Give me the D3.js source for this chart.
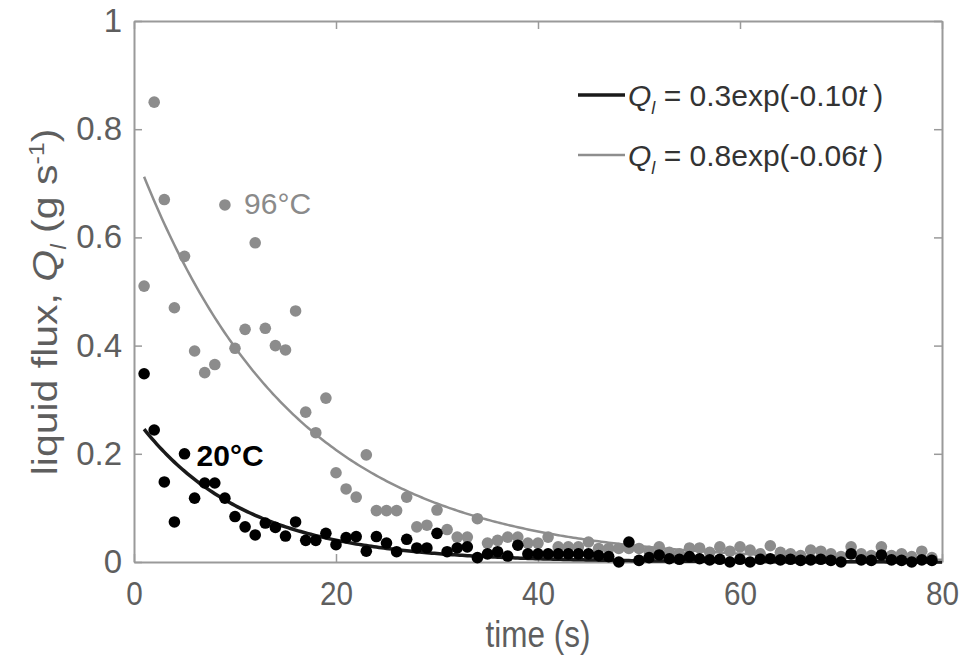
<!DOCTYPE html>
<html>
<head>
<meta charset="utf-8">
<script src="https://cdn.jsdelivr.net/npm/d3@7"></script>
<style>
  html, body { margin: 0; padding: 0; background: #fff; }
  text { font-family: "Liberation Sans", Arial, sans-serif; }
</style>
</head>
<body>
<div class="fluxchart"></div>
<script>
// time (s) for every sample
const times = d3.range(1, 80);
// 96 C run, liquid flux (g/s)
const hot = [
  0.51, 0.85, 0.67, 0.47, 0.565, 0.39, 0.35, 0.365, 0.66, 0.395,
  0.43, 0.59, 0.432, 0.40, 0.392, 0.464, 0.277, 0.239, 0.303, 0.165,
  0.135, 0.12, 0.198, 0.095, 0.095, 0.095, 0.12, 0.065, 0.068, 0.096,
  0.06, 0.046, 0.046, 0.08, 0.035, 0.04, 0.046, 0.046, 0.035, 0.035,
  0.046, 0.028, 0.028, 0.028, 0.037, 0.025, 0.025, 0.025, 0.025, 0.025,
  0.02, 0.028, 0.018, 0.015, 0.026, 0.026, 0.018, 0.028, 0.02, 0.028,
  0.022, 0.015, 0.03, 0.018, 0.015, 0.012, 0.022, 0.02, 0.015, 0.01,
  0.028, 0.015, 0.012, 0.028, 0.012, 0.015, 0.01, 0.02, 0.008
];
// 20 C run
const cold = [
  0.348, 0.244, 0.148, 0.074, 0.20, 0.118, 0.146, 0.146, 0.118, 0.084,
  0.065, 0.05, 0.072, 0.064, 0.048, 0.074, 0.04, 0.04, 0.053, 0.032,
  0.045, 0.047, 0.02, 0.047, 0.035, 0.019, 0.042, 0.026, 0.026, 0.053,
  0.019, 0.026, 0.028, 0.008, 0.015, 0.019, 0.011, 0.031, 0.015, 0.015,
  0.015, 0.015, 0.015, 0.015, 0.015, 0.012, 0.01, 0.0, 0.037, 0.003,
  0.008, 0.013, 0.006, 0.005, 0.01, 0.006, 0.004, 0.005, 0.0, 0.005,
  0.0, 0.005, 0.006, 0.004, 0.005, 0.003, 0.004, 0.005, 0.003, 0.0,
  0.015, 0.004, 0.003, 0.013, 0.004, 0.003, 0.0, 0.004, 0.003
];
// exponential fits, as drawn: Q = a * exp(-k t)
const fitNames = ['0.3exp(-0.10', '0.8exp(-0.06'];
const fitA = [0.27, 0.76];
const fitK = [0.095, 0.065];
const fitColors = ['#1a1a1a', '#8e8e8e'];
const xTicks = [0, 20, 40, 60, 80];
const yTicks = [0, 0.2, 0.4, 0.6, 0.8, 1];

const width = 963,
  height = 660,
  margin = { top: 21, right: 21, bottom: 98, left: 134 },
  innerW = width - margin.left - margin.right,
  innerH = height - margin.top - margin.bottom,
  axisGrey = '#9a9a9a',
  labelGrey = '#5e5e5e';

const svg = d3.select('.fluxchart')
  .append('svg')
  .attr('width', width)
  .attr('height', height);
const g = svg.append('g')
  .attr('transform', 'translate(' + margin.left + ',' + margin.top + ')');

const x = d3.scaleLinear().domain([0, 80]).range([0, innerW]);
const y = d3.scaleLinear().domain([0, 1]).range([innerH, 0]);

// axes, MATLAB style: box on, ticks pointing in
const styleAxis = (sel) => {
  sel.select('.domain').attr('stroke', axisGrey).attr('stroke-width', 2);
  sel.selectAll('.tick line').attr('stroke', axisGrey).attr('stroke-width', 1.5);
  sel.selectAll('.tick text')
    .attr('fill', labelGrey)
    .style('font-size', '33px');
};
g.append('g')
  .attr('transform', 'translate(0,' + innerH + ')')
  .call(d3.axisBottom(x).tickValues(xTicks).tickSize(-8).tickPadding(20).tickSizeOuter(0))
  .call(styleAxis)
  .selectAll('.tick text')
  .attr('transform', 'scale(0.9,1)');
g.append('g')
  .call(d3.axisTop(x).tickValues(xTicks).tickSize(-8).tickFormat('').tickSizeOuter(0))
  .call(styleAxis);
g.append('g')
  .call(d3.axisLeft(y).tickValues(yTicks).tickSize(-8).tickPadding(12).tickSizeOuter(0)
    .tickFormat(d3.format('~g')))
  .call(styleAxis);
g.append('g')
  .attr('transform', 'translate(' + innerW + ',0)')
  .call(d3.axisRight(y).tickValues(yTicks).tickSize(-8).tickFormat('').tickSizeOuter(0))
  .call(styleAxis);

// fitted curves
const curveT = d3.range(1, 80.01, 0.25);
const line = d3.line()
  .x((d) => x(d[0]))
  .y((d) => y(d[1]));
fitA.forEach((a, i) => {
  g.append('path')
    .datum(curveT.map((t) => [t, a * Math.exp(-fitK[i] * t)]))
    .attr('fill', 'none')
    .attr('stroke', fitColors[i])
    .attr('stroke-width', i === 0 ? 3.5 : 2.5)
    .attr('d', line);
});

// scatter, grey run under the black one
const dots = (vals, color) => {
  g.append('g')
    .selectAll('circle')
    .data(vals)
    .enter()
    .append('circle')
    .attr('cx', (d, i) => x(times[i]))
    .attr('cy', (d) => y(d))
    .attr('r', 5.8)
    .attr('fill', color);
};
dots(hot, '#8c8c8c');
dots(cold, '#000');

// run labels
g.append('text')
  .attr('x', x(10.9))
  .attr('y', y(0.644))
  .attr('fill', '#8a8a8a')
  .style('font-size', '30px')
  .text('96°C');
g.append('text')
  .attr('x', x(6.2))
  .attr('y', y(0.178))
  .attr('fill', '#000')
  .style('font-size', '30px')
  .style('font-weight', 'bold')
  .text('20°C');

// legend
const legend = svg.selectAll('.legend')
  .data(fitNames)
  .enter()
  .append('g')
  .attr('class', 'legend')
  .attr('transform', (d, i) => 'translate(578,' + (95 + i * 60) + ')');
legend.append('line')
  .attr('x1', 0).attr('x2', 47)
  .attr('stroke', (d, i) => fitColors[i])
  .attr('stroke-width', (d, i) => (i === 0 ? 3.5 : 2.5));
const ltext = legend.append('text')
  .attr('x', 50)
  .attr('y', 11)
  .attr('fill', '#333')
  .style('font-size', '30px');
ltext.append('tspan').style('font-style', 'italic').text('Q');
ltext.append('tspan').style('font-style', 'italic').style('font-size', '18px').attr('dy', 8).text('l');
ltext.append('tspan').attr('dy', -8).text(' = ');
ltext.append('tspan').text((d) => d);
ltext.append('tspan').style('font-style', 'italic').text('t');
ltext.append('tspan').attr('dx', 7).text(')');

// axis titles (source figure is squeezed sideways, so glyphs are narrowed)
svg.append('text')
  .attr('transform', 'translate(' + (margin.left + innerW / 2) + ',647) scale(0.85,1)')
  .attr('text-anchor', 'middle')
  .attr('fill', labelGrey)
  .style('font-size', '37px')
  .text('time (s)');
const ylab = svg.append('text')
  .attr('transform', 'translate(57,302) rotate(-90) scale(1,0.85)')
  .attr('text-anchor', 'middle')
  .attr('fill', labelGrey)
  .style('font-size', '41px');
ylab.append('tspan').text('liquid flux, ');
ylab.append('tspan').style('font-style', 'italic').text('Q');
ylab.append('tspan').style('font-style', 'italic').style('font-size', '25px').attr('dy', 10).text('l');
ylab.append('tspan').attr('dy', -10).text(' (g s');
ylab.append('tspan').style('font-size', '25px').attr('dy', -15).text('-1');
ylab.append('tspan').attr('dy', 15).text(')');
</script>
</body>
</html>
